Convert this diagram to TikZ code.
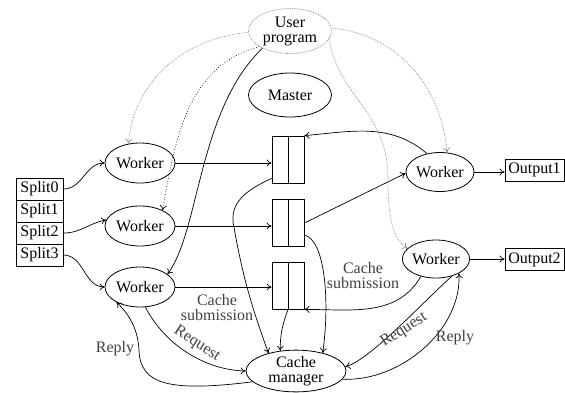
\documentclass[tikz,border=0pt]{standalone}
\usepackage{fontspec}
\setmainfont{Liberation Serif}
\usetikzlibrary{shapes.geometric,arrows.meta}
\begin{document}
\begin{tikzpicture}[x=1pt,y=1pt,
  font=\fontsize{16}{15}\selectfont,
  proc/.style={ellipse,draw,line width=0.8pt,inner sep=0pt,minimum width=70pt,minimum height=40pt,align=center},
  splitbox/.style={rectangle,draw,line width=1pt,minimum width=47pt,minimum height=22pt,inner sep=0pt},
  outbox/.style={rectangle,draw,line width=1pt,minimum width=59pt,minimum height=22pt,inner sep=0pt},
  queue/.style={rectangle,draw,line width=0.8pt,minimum width=32pt,minimum height=47pt,inner sep=0pt},
  link/.style={line width=0.7pt,-{To[length=5pt,width=7pt]}},
  hint/.style={link,densely dotted,black!45},
  lab/.style={inner sep=1pt,align=center,text=black!75}
]
\useasboundingbox (0,0) rectangle (565,-392);

% processes
\node[proc,draw=black!45,densely dotted,minimum width=83pt,minimum height=45pt] (up) at (290,-31) {User\\program};
\node[proc,minimum width=83pt,minimum height=44pt] (master) at (290,-95) {Master};
\node[proc] (w1) at (140,-163) {Worker};
\node[proc] (w2) at (140,-226) {Worker};
\node[proc] (w3) at (140,-287) {Worker};
\node[proc,minimum width=68pt,minimum height=39pt] (wr1) at (440,-172) {Worker};
\node[proc,minimum width=65pt,minimum height=38pt] (wr2) at (436,-259) {Worker};
\node[proc,minimum width=100pt,minimum height=41pt] (cm) at (296,-371) {Cache\\manager};

% input splits
\node[splitbox] (s0) at (39.5,-189) {Split0};
\node[splitbox] (s1) at (39.5,-211) {Split1};
\node[splitbox] (s2) at (39.5,-233) {Split2};
\node[splitbox] (s3) at (39.5,-255) {Split3};

% outputs
\node[outbox] (o1) at (534.5,-170) {Output1};
\node[outbox] (o2) at (534.5,-259.5) {Output2};

% intermediate buffers
\node[queue] (q1) at (288,-159.5) {};
\node[queue] (q2) at (288,-223) {};
\node[queue] (q3) at (288,-285.5) {};
\foreach \q in {q1,q2,q3} \draw[line width=0.8pt] (\q.north) -- (\q.south);

% splits to workers
\draw[link] (s0.east) to[out=0,in=180] (w1.west);
\draw[link] (s2.east) to[out=0,in=190] (w2.170);
\draw[link] (s3.east) to[out=0,in=180] (w3.west);

% workers to buffers
\draw[link] (w1.east) -- (w1.east -| q1.west);
\draw[link] (w2.east) -- (w2.east -| q2.west);
\draw[link] (w3.east) -- (w3.east -| q3.west);

% user program
\draw[hint] (up.182) to[out=185,in=85] (w1.121);
\draw[link,dotted] (up.207) to[out=195,in=80] (w2.35);
\draw[link] (up.212) .. controls (198,-110) and (200,-230) .. (w3.25);
\draw[hint] (up.4) to[out=-5,in=95] (wr1.70);
\draw[hint] (up.-12) .. controls (340,-100) and (388,-110) .. (388,-180)
  .. controls (388,-225) and (395,-240) .. (wr2.160);

% buffers and right workers
\draw[link] (wr1.125) to[out=140,in=5] (q1.north east);
\draw[link] (q2.east) -- (wr1.182);
\draw[link] (wr2.229) to[out=-120,in=0] (q3.south east);
\draw[link] (wr1.east) -- (wr1.east -| o1.west);
\draw[link] (wr2.east) -- (wr2.east -| o2.west);

% buffers to cache manager
\draw[link] ([yshift=5pt]q1.south west) to[out=205,in=95] (233,-222)
  to[out=-80,in=110] (cm.147);
\draw[link] (q3.south) to[out=-110,in=90] (cm.128);
\draw[link] ([yshift=-12pt]q2.east) .. controls (325,-240) and (330,-300) .. (cm.34);

% request / reply
\draw[link] (w3.-75) .. controls (165,-345) and (205,-370) .. (cm.180);
\draw[link] (cm.194) .. controls (170,-392) and (140,-385) .. (139,-350)
  .. controls (138,-330) and (130,-315) .. (w3.213);
\draw[link] (wr2.-47) .. controls (425,-300) and (370,-360) .. (cm.5);
\draw[link] (cm.-10) .. controls (400,-382) and (462,-330) .. (wr2.-32);

% labels
\node[lab] (cs1) at (217,-308) {Cache\\submission};
\node[lab] (cs2) at (363,-276) {Cache\\submission};
\node[lab,rotate=-33] (rq1) at (197,-344) {Request};
\node[lab] (rp1) at (115,-349) {Reply};
\node[lab,rotate=32] (rq2) at (404,-330) {Request};
\node[lab] (rp2) at (455,-338) {Reply};
\end{tikzpicture}
\end{document}
